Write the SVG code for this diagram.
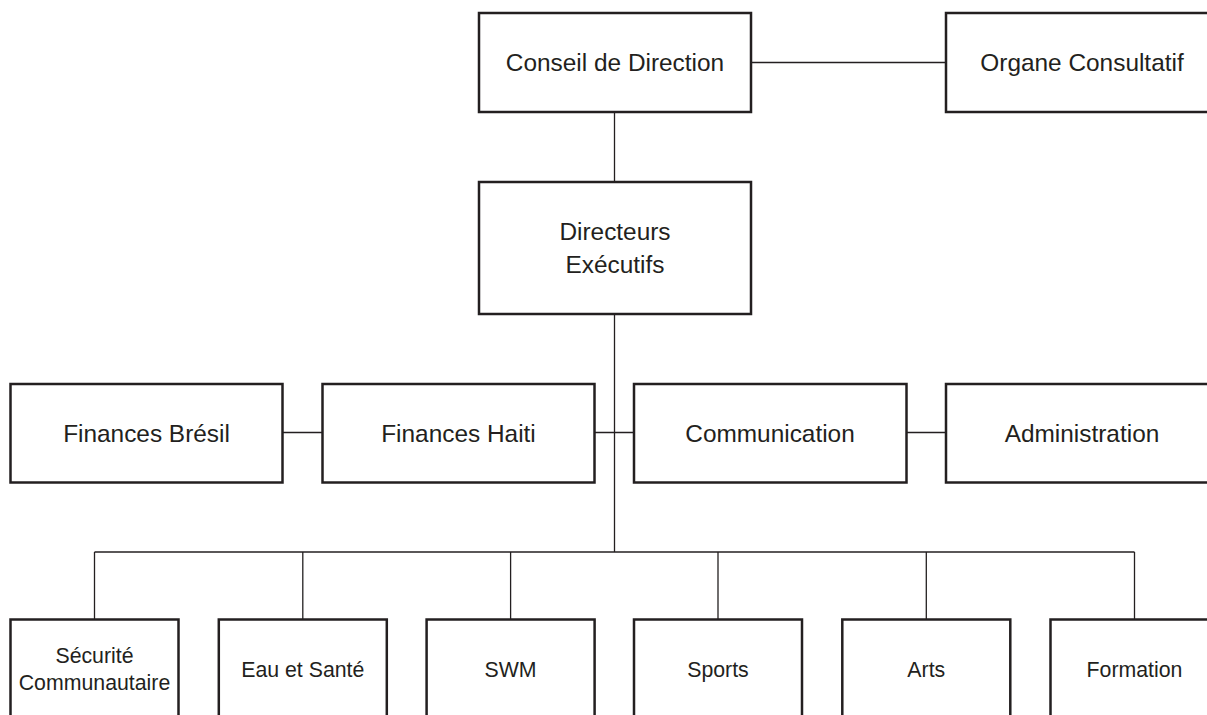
<svg xmlns="http://www.w3.org/2000/svg" width="1207" height="715" viewBox="0 0 1207 715">
<style>
.box{fill:#fff;stroke:#231f20;stroke-width:2.5}
.ln{fill:none;stroke:#231f20;stroke-width:1.3}
.t{font-family:"Liberation Sans",Arial,sans-serif;font-size:24.4px;fill:#231f20;text-anchor:middle}
.s{font-family:"Liberation Sans",Arial,sans-serif;font-size:21.3px;fill:#231f20;text-anchor:middle}
</style>
<rect width="1207" height="715" fill="#fff"/>
<g id="connectors">
<line class="ln" x1="751" y1="62.5" x2="946" y2="62.5"/>
<line class="ln" x1="614.5" y1="112" x2="614.5" y2="182"/>
<line class="ln" x1="614.5" y1="314" x2="614.5" y2="552"/>
<line class="ln" x1="282.5" y1="432.5" x2="322.5" y2="432.5"/>
<line class="ln" x1="594.5" y1="432.5" x2="634" y2="432.5"/>
<line class="ln" x1="906.5" y1="432.5" x2="946" y2="432.5"/>
<line class="ln" x1="94.5" y1="552" x2="1134.5" y2="552"/>
<line class="ln" x1="94.5" y1="552" x2="94.5" y2="619.5"/>
<line class="ln" x1="302.8" y1="552" x2="302.8" y2="619.5"/>
<line class="ln" x1="510.6" y1="552" x2="510.6" y2="619.5"/>
<line class="ln" x1="718" y1="552" x2="718" y2="619.5"/>
<line class="ln" x1="926.3" y1="552" x2="926.3" y2="619.5"/>
<line class="ln" x1="1134.5" y1="552" x2="1134.5" y2="619.5"/>
</g>
<g id="conseil"><rect class="box" x="479" y="13" width="272" height="99"/><text class="t" x="615" y="71">Conseil de Direction</text></g>
<g id="organe"><rect class="box" x="946" y="13" width="272" height="99"/><text class="t" x="1082" y="71">Organe Consultatif</text></g>
<g id="directeurs"><rect class="box" x="479" y="182" width="272" height="132"/><text class="t" x="615" y="240">Directeurs</text><text class="t" x="615" y="273">Exécutifs</text></g>
<g id="finances-bresil"><rect class="box" x="10.5" y="384" width="272" height="98.5"/><text class="t" x="146.5" y="442">Finances Brésil</text></g>
<g id="finances-haiti"><rect class="box" x="322.5" y="384" width="272" height="98.5"/><text class="t" x="458.5" y="442">Finances Haiti</text></g>
<g id="communication"><rect class="box" x="634" y="384" width="272.5" height="98.5"/><text class="t" x="770" y="442">Communication</text></g>
<g id="administration"><rect class="box" x="946" y="384" width="272" height="98.5"/><text class="t" x="1082" y="442">Administration</text></g>
<g id="securite"><rect class="box" x="10.5" y="619.5" width="168" height="110"/><text class="s" x="94.5" y="663">Sécurité</text><text class="s" x="94.5" y="690">Communautaire</text></g>
<g id="eau"><rect class="box" x="218.8" y="619.5" width="168" height="110"/><text class="s" x="302.8" y="677">Eau et Santé</text></g>
<g id="swm"><rect class="box" x="426.6" y="619.5" width="168" height="110"/><text class="s" x="510.6" y="677">SWM</text></g>
<g id="sports"><rect class="box" x="634" y="619.5" width="168" height="110"/><text class="s" x="718" y="677">Sports</text></g>
<g id="arts"><rect class="box" x="842.3" y="619.5" width="168" height="110"/><text class="s" x="926.3" y="677">Arts</text></g>
<g id="formation"><rect class="box" x="1050.5" y="619.5" width="168" height="110"/><text class="s" x="1134.5" y="677">Formation</text></g>
</svg>
